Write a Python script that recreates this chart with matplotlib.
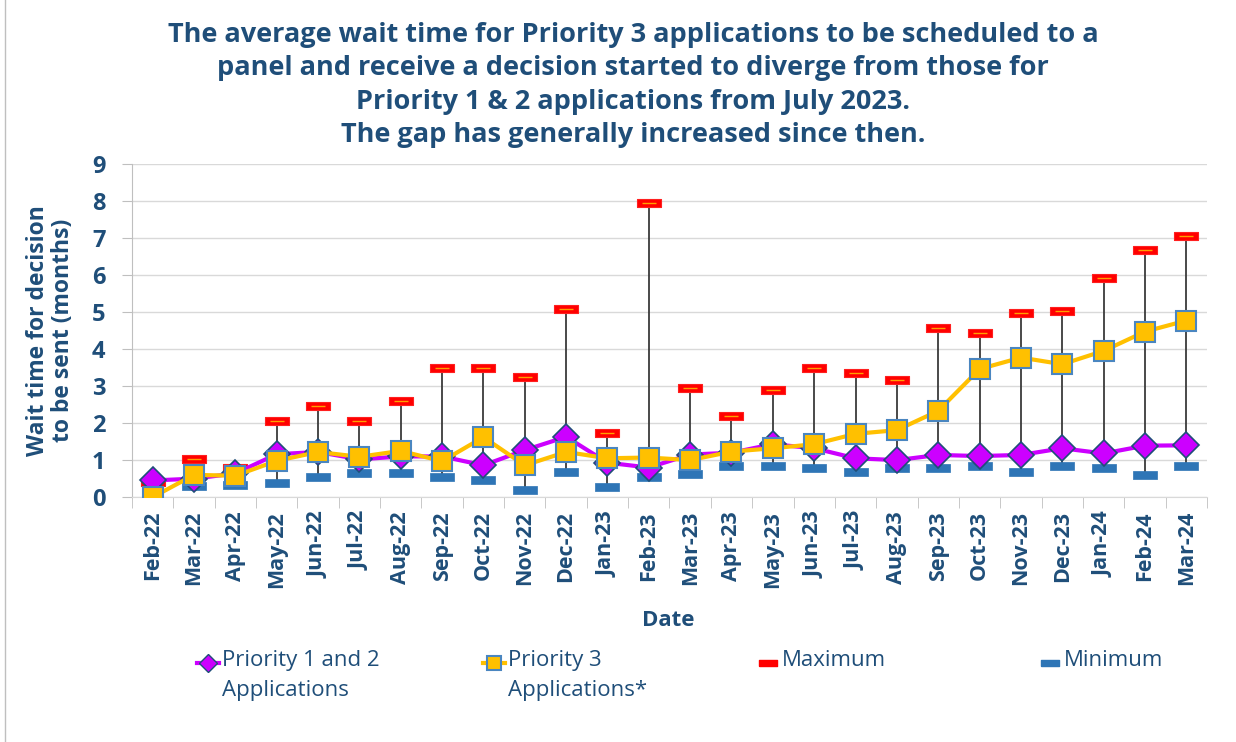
import matplotlib.pyplot as plt
from matplotlib.lines import Line2D
import numpy as np

plt.rcParams['font.family'] = ['Open Sans', 'DejaVu Sans']

months = ["Feb-22", "Mar-22", "Apr-22", "May-22", "Jun-22", "Jul-22", "Aug-22",
          "Sep-22", "Oct-22", "Nov-22", "Dec-22", "Jan-23", "Feb-23", "Mar-23",
          "Apr-23", "May-23", "Jun-23", "Jul-23", "Aug-23", "Sep-23", "Oct-23",
          "Nov-23", "Dec-23", "Jan-24", "Feb-24", "Mar-24"]

# average wait (months)
p12 = [0.45, 0.5, 0.64, 1.16, 1.22, 1.02, 1.1, 1.1, 0.86, 1.27, 1.63, 0.93, 0.8,
       1.15, 1.2, 1.43, 1.32, 1.05, 1.0, 1.14, 1.11, 1.14, 1.32, 1.18, 1.39, 1.40]
p3 = [0.0, 0.6, 0.58, 0.98, 1.22, 1.09, 1.25, 0.97, 1.62, 0.86, 1.22, 1.05, 1.07,
      1.0, 1.23, 1.32, 1.43, 1.71, 1.81, 2.33, 3.46, 3.77, 3.59, 3.95, 4.47, 4.77]
maximum = [0.42, 1.02, 0.78, 2.05, 2.47, 2.05, 2.61, 3.5, 3.5, 3.25, 5.08, 1.72, 7.94,
           2.94, 2.19, 2.9, 3.5, 3.36, 3.16, 4.57, 4.43, 4.98, 5.04, 5.93, 6.68, 7.05]
minimum = [0.40, 0.30, 0.32, 0.37, 0.55, 0.64, 0.64, 0.55, 0.46, 0.18, 0.69, 0.28, 0.55,
           0.63, 0.84, 0.84, 0.78, 0.69, 0.78, 0.78, 0.84, 0.69, 0.84, 0.78, 0.59, 0.84]

navy = '#1F4E79'
x = np.arange(len(months))
W, H = 1236, 742

fig = plt.figure(figsize=(12.36, 7.42), dpi=100)
ax = fig.add_axes([0.1068, 0.330, 0.8697, 0.449])

# high-low lines across all series
allv = np.array([p12, p3, maximum, minimum])
ax.vlines(x, allv.min(axis=0), allv.max(axis=0), color='#3a3a3a', lw=1.3, zorder=2)

bar = [(-1, -0.3), (1, -0.3), (1, 0.3), (-1, 0.3), (-1, -0.3)]
ax.plot(x, minimum, ls='none', marker=bar, ms=17, mfc='#2E75B6', mec='#2E75B6', mew=0.5, zorder=3)
ax.plot(x, maximum, ls='none', marker=bar, ms=17, mfc='#FF0000', mec='#FF2020', mew=0.8, zorder=3)
ax.plot(x, maximum, ls='none', marker='_', ms=10, mec='#FFA000', mew=1.0, zorder=3)

ax.plot(x, p12, color='#CC00FF', lw=3, marker='D', ms=13, mfc='#CC00FF',
        mec='#1F4E79', mew=1.2, zorder=4)
ax.plot(x, p3, color='#FFC000', lw=3, marker='s', ms=15, mfc='#FFC000',
        mec='#4A86C0', mew=1.5, zorder=5)

ax.set_xlim(-0.5, len(months) - 0.5)
ax.set_ylim(0, 9)
ax.set_yticks(range(10))
ax.set_xticks(x)
ax.set_xticklabels(months, rotation=90, fontsize=15.5, fontweight='bold', color=navy)
ax.set_xticks(np.arange(-0.5, len(months)), minor=True)
ax.tick_params(axis='x', which='major', length=0, pad=10)
ax.tick_params(axis='x', which='minor', length=8, color='#BFBFBF')
ax.tick_params(axis='y', length=7, color='#BFBFBF', pad=12, labelsize=17, labelcolor=navy)
for t in ax.get_yticklabels():
    t.set_fontweight('bold')

ax.grid(axis='y', color='#D9D9D9', lw=1)
ax.set_axisbelow(True)
for s in ['top', 'right']:
    ax.spines[s].set_visible(False)
ax.spines['left'].set_color('#BFBFBF')
ax.spines['bottom'].set_color('#D9D9D9')

ax.set_ylabel("Wait time for decision\nto be sent (months)", fontsize=16.5, fontweight='bold',
              color=navy, labelpad=12, linespacing=1.05)
fig.text(668 / W, 1 - 620 / H, "Date", ha='center', va='center', fontsize=16,
         fontweight='bold', color=navy)

fig.text(0.512, 1 - 85 / H,
         "The average wait time for Priority 3 applications to be scheduled to a\n"
         "panel and receive a decision started to diverge from those for\n"
         "Priority 1 & 2 applications from July 2023.\n"
         "The gap has generally increased since then.",
         ha='center', va='center', fontsize=19.5, fontweight='bold', color=navy,
         linespacing=1.37)

# legend, drawn entry by entry so the handle sits on the first text line
entries = [
    (208, dict(color='#CC00FF', lw=3, marker='D', ms=9, mfc='#CC00FF', mec='#1F4E79'),
     "Priority 1 and 2\nApplications"),
    (494, dict(color='#FFC000', lw=3, marker='s', ms=10, mfc='#FFC000', mec='#4A86C0', mew=1.5),
     "Priority 3\nApplications*"),
    (768, dict(ls='none', marker=bar, ms=13, mfc='#FF0000', mec='#FF0000'), "Maximum"),
    (1050, dict(ls='none', marker=bar, ms=13, mfc='#2E75B6', mec='#2E75B6'), "Minimum"),
]
ly = 1 - 663 / H
for hx, style, label in entries:
    fig.add_artist(Line2D([(hx - 11) / W, hx / W, (hx + 11) / W], [ly] * 3,
                          markevery=[1], **style))
    fig.text((hx + 14) / W, 1 - 650 / H, label, ha='left', va='top', fontsize=16,
             color=navy, linespacing=1.55)

fig.add_artist(Line2D([0.004, 0.004], [0.0, 1.0], color='#BFBFBF', lw=1))

fig.savefig('out.png', dpi=100)
